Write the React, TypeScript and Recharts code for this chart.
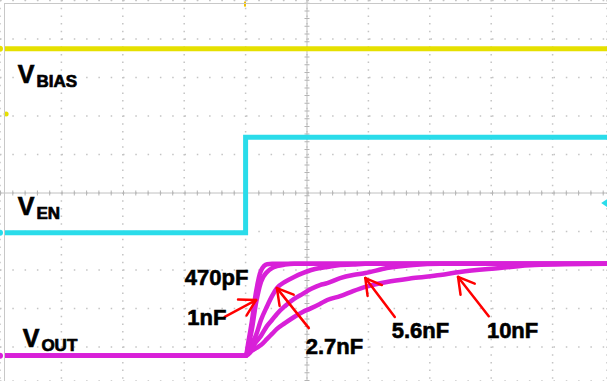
import { CartesianGrid, Line, LineChart, ReferenceDot, ReferenceLine, XAxis, YAxis } from "recharts"

// scope screen: x in horizontal divisions, y in vertical divisions (0 = centre line)
const tBias = [0, 9.89]
const vBias = [3.75, 3.75]

const tEn = [0, 4.0, 4.0, 9.89]
const vEn = [-1.03, -1.03, 1.45, 1.45]

const tOut = [0, 4.0, 4.05, 4.1, 4.17, 4.25, 4.35, 4.43, 4.51, 4.64, 4.79, 4.93, 5.07, 5.21, 5.33, 5.54, 5.75, 5.95, 6.3, 6.73, 7.17, 7.49, 8.14, 8.71, 9.89]
const out470p = [-4.23, -4.23, -3.82, -3.35, -2.57, -2.02, -1.85, -1.84, -1.84, -1.84, -1.84, -1.84, -1.84, -1.84, -1.84, -1.84, -1.84, -1.84, -1.84, -1.84, -1.84, -1.84, -1.84, -1.84, -1.84]
const out1n = [-4.23, -4.23, -3.95, -3.56, -2.86, -2.31, -2.05, -1.95, -1.9, -1.86, -1.84, -1.84, -1.84, -1.84, -1.84, -1.84, -1.84, -1.84, -1.84, -1.84, -1.84, -1.84, -1.84, -1.84, -1.84]
const out2n7 = [-4.23, -4.23, -4.08, -3.92, -3.69, -3.3, -2.94, -2.68, -2.47, -2.31, -2.18, -2.08, -2.0, -1.95, -1.92, -1.87, -1.86, -1.84, -1.84, -1.84, -1.84, -1.84, -1.84, -1.84, -1.84]
const out5n6 = [-4.23, -4.23, -4.13, -4.03, -3.87, -3.71, -3.45, -3.3, -3.14, -2.94, -2.75, -2.62, -2.49, -2.39, -2.34, -2.21, -2.13, -2.08, -1.95, -1.87, -1.84, -1.84, -1.84, -1.84, -1.84]
const out10n = [-4.23, -4.23, -4.18, -4.1, -4.03, -3.95, -3.79, -3.66, -3.53, -3.38, -3.22, -3.09, -2.99, -2.88, -2.78, -2.68, -2.55, -2.44, -2.31, -2.21, -2.13, -2.05, -1.95, -1.87, -1.84]

const xTicks = [0, 1, 2, 3, 4, 5, 6, 7, 8, 9]
const yTicks = [-4, -3, -2, -1, 0, 1, 2, 3, 4, 5]

const traceNames = [
  { x: 0.29, y: 2.86, main: "V", sub: "BIAS" },
  { x: 0.29, y: -0.57, main: "V", sub: "EN" },
  { x: 0.37, y: -4.0, main: "V", sub: "OUT" },
]

const capLabels = [
  { x: 3.01, y: -2.39, text: "470pF" },
  { x: 3.05, y: -3.43, text: "1nF" },
  { x: 4.98, y: -4.18, text: "2.7nF" },
  { x: 6.38, y: -3.77, text: "5.6nF" },
  { x: 7.93, y: -3.77, text: "10nF" },
]

// tail -> tip
const arrows = [
  [{ x: 3.66, y: -3.22 }, { x: 4.17, y: -2.78 }],
  [{ x: 5.03, y: -3.51 }, { x: 4.51, y: -2.47 }],
  [{ x: 6.43, y: -3.22 }, { x: 5.95, y: -2.21 }],
  [{ x: 7.96, y: -3.2 }, { x: 7.46, y: -2.18 }],
]

const zip = (t: number[], v: number[]) => t.map((x, i) => ({ t: x, v: v[i] }))

const YELLOW = "#e6e000"
const CYAN = "#2adcea"
const MAGENTA = "#d820d8"
const FONT = "'Liberation Sans', Arial, sans-serif"

const Arrow = (p: any) => {
  const { x1, y1, x2, y2 } = p
  const a = Math.atan2(y1 - y2, x1 - x2)
  const len = 18
  const d = Math.PI / 6
  return (
    <g stroke="#ff0000" strokeWidth={2.5} fill="none" strokeLinecap="round">
      <line x1={x1} y1={y1} x2={x2} y2={y2} />
      <line x1={x2} y1={y2} x2={x2 + len * Math.cos(a + d)} y2={y2 + len * Math.sin(a + d)} />
      <line x1={x2} y1={y2} x2={x2 + len * Math.cos(a - d)} y2={y2 + len * Math.sin(a - d)} />
    </g>
  )
}

export default function App() {
  return (
    <div style={{ position: "absolute", left: 0, top: 0, width: 607, height: 381, background: "#fff" }}>
      <LineChart width={607} height={381} margin={{ top: 0, right: 0, bottom: 0, left: 0 }}>
        <XAxis type="number" dataKey="t" domain={[0, 9.886]} ticks={xTicks} allowDataOverflow hide />
        <YAxis type="number" domain={[-4.883, 5.013]} ticks={yTicks} allowDataOverflow hide width={0} />
        <CartesianGrid vertical={false} stroke="#c4c4c4" strokeWidth={1.5} strokeDasharray="1.5 10.8" />
        <CartesianGrid horizontal={false} stroke="#c4c4c4" strokeWidth={1.5} strokeDasharray="1.5 6.2" />
        <ReferenceLine x={5} stroke="#c0c0c0" strokeWidth={1} />
        <ReferenceLine x={5} stroke="#b4b4b4" strokeWidth={5} strokeDasharray="1 6.7" />
        <ReferenceLine y={0} stroke="#c0c0c0" strokeWidth={1} />
        <ReferenceLine y={0} stroke="#b4b4b4" strokeWidth={5} strokeDasharray="1 11.3" />

        <Line data={zip(tBias, vBias)} dataKey="v" type="linear" stroke={YELLOW} strokeWidth={5} dot={false} isAnimationActive={false} />
        <Line data={zip(tEn, vEn)} dataKey="v" type="linear" stroke={CYAN} strokeWidth={5} dot={false} isAnimationActive={false} />
        <Line data={zip(tOut, out10n)} dataKey="v" type="monotone" stroke={MAGENTA} strokeWidth={4.5} dot={false} isAnimationActive={false} />
        <Line data={zip(tOut, out5n6)} dataKey="v" type="monotone" stroke={MAGENTA} strokeWidth={4.5} dot={false} isAnimationActive={false} />
        <Line data={zip(tOut, out2n7)} dataKey="v" type="monotone" stroke={MAGENTA} strokeWidth={4.5} dot={false} isAnimationActive={false} />
        <Line data={zip(tOut, out1n)} dataKey="v" type="monotone" stroke={MAGENTA} strokeWidth={4.5} dot={false} isAnimationActive={false} />
        <Line data={zip(tOut, out470p)} dataKey="v" type="monotone" stroke={MAGENTA} strokeWidth={4.5} dot={false} isAnimationActive={false} />

        {/* channel / trigger markers */}
        <ReferenceDot x={0.1} y={2.05} r={2.5} fill={YELLOW} stroke="none" />
        <ReferenceDot
          x={9.84}
          y={-0.26}
          shape={(p: any) => <path d={`M${p.cx - 3},${p.cy} L${p.cx + 3},${p.cy - 4} L${p.cx + 3},${p.cy + 4} Z`} fill={CYAN} />}
        />
        <ReferenceDot
          x={3.99}
          y={4.92}
          shape={(p: any) => <rect x={p.cx - 1} y={p.cy - 2} width={2} height={5} fill="#f0c000" />}
        />

        {arrows.map((seg, i) => (
          <ReferenceLine key={`a${i}`} segment={seg} shape={Arrow} />
        ))}

        {traceNames.map((n) => (
          <ReferenceDot
            key={n.sub}
            x={n.x}
            y={n.y}
            shape={(p: any) => (
              <text x={p.cx} y={p.cy} fontFamily={FONT} fontWeight="bold" fill="#000" stroke="#000" strokeWidth={0.7}>
                <tspan fontSize={25}>{n.main}</tspan>
                <tspan fontSize={17} dx={2} dy={4}>{n.sub}</tspan>
              </text>
            )}
          />
        ))}
        {capLabels.map((c) => (
          <ReferenceDot
            key={c.text}
            x={c.x}
            y={c.y}
            shape={(p: any) => (
              <text x={p.cx} y={p.cy} fontFamily={FONT} fontWeight="bold" fontSize={22} fill="#000" stroke="#000" strokeWidth={0.6}>
                {c.text}
              </text>
            )}
          />
        ))}
      </LineChart>
      <div
        style={{
          position: "absolute",
          left: 4,
          top: 3,
          right: 0,
          bottom: 0,
          borderLeft: "1px solid #c8c8c8",
          borderTop: "1px solid #c8c8c8",
          pointerEvents: "none",
        }}
      />
    </div>
  )
}
